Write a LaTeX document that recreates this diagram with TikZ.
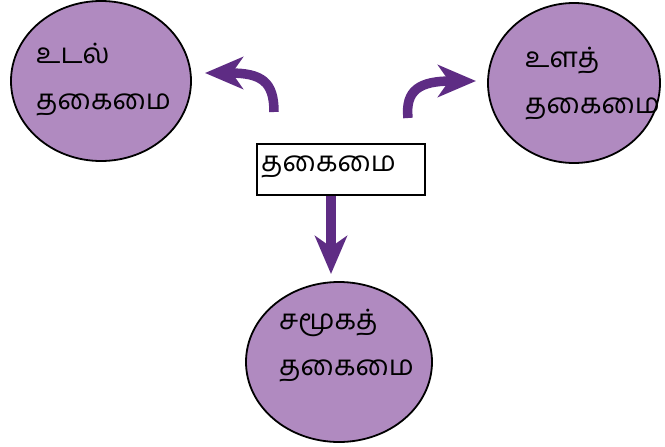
\documentclass[tikz,border=0pt]{standalone}
\usepackage{fontspec}
\newfontfamily\tamil[Script=Tamil]{Hind Madurai}
\usetikzlibrary{arrows.meta,shapes.geometric}
\definecolor{arrowpurple}{RGB}{94,44,132}
\definecolor{ellfill}{RGB}{176,138,192}
\tikzset{
  oval/.style={ellipse, draw=black, line width=1.8pt, fill=ellfill, inner sep=0pt},
  txt/.style={font=\tamil\fontsize{28}{46}\selectfont, align=left, inner sep=0pt, anchor=west},
  bigarrow/.style={draw=arrowpurple, line width=9.5pt,
    -{Stealth[length=38pt, width=32pt, inset=11pt, fill=arrowpurple]}},
}
\begin{document}
\begin{tikzpicture}[x=1pt,y=-1pt]
\useasboundingbox (0,0) rectangle (665,447);
% ellipses
\node[oval, minimum width=180pt, minimum height=160pt] (body) at (101,81) {};
\node[oval, minimum width=172pt, minimum height=160pt] (mind) at (574,83) {};
\node[oval, minimum width=186pt, minimum height=160pt] (social) at (339,362) {};
% texts
\node[txt] (bodytxt) at (36,80) {உடல்\\தகைமை};
\node[txt] (mindtxt) at (525,84) {உளத்\\தகைமை};
\node[txt] (socialtxt) at (279,346) {சமூகத்\\தகைமை};
% central box
\node[draw=black, line width=1.8pt, minimum width=168pt, minimum height=51pt, inner sep=0pt] (box) at (341,169.5) {};
\node[txt] (boxtxt) at (261,167) {தகைமை};
% arrow end points
\coordinate (ls) at (274,112);
\coordinate (lt) at (205,73);
\coordinate (rs) at (408,118);
\coordinate (rt) at (476,81);
\coordinate (ds) at (331,196);
\coordinate (dt) at (331,274);
\draw[bigarrow] (ls) .. controls (274,82) and (262,73) .. (lt);
\draw[bigarrow] (rs) .. controls (405,90) and (420,81) .. (rt);
\draw[bigarrow] (ds) -- (dt);
\end{tikzpicture}
\end{document}
